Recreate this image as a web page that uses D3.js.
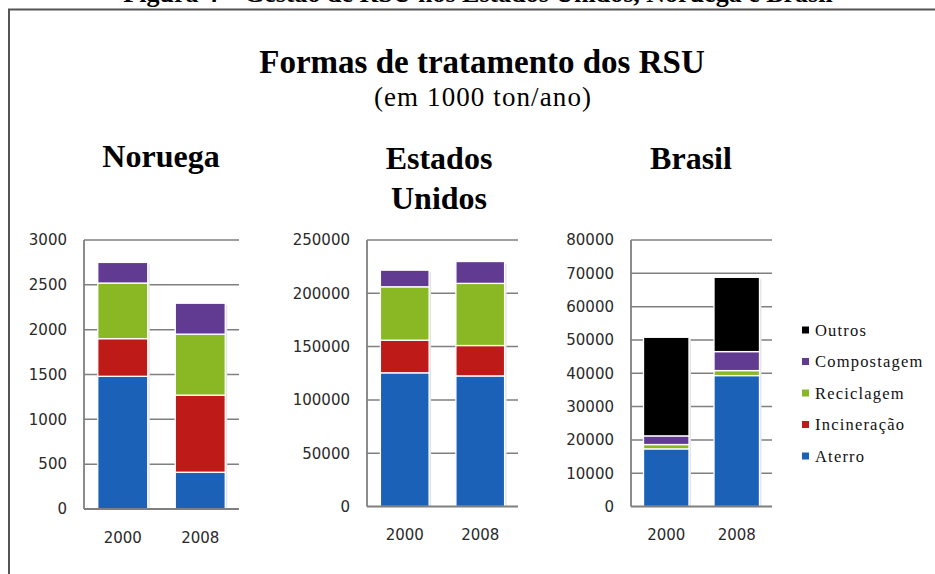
<!DOCTYPE html>
<html><head><meta charset="utf-8">
<script src="https://cdn.jsdelivr.net/npm/d3@7"></script>
<style>html,body{margin:0;padding:0;background:#fff;overflow:hidden}</style>
</head><body>
<svg id="chart" width="935" height="574"></svg>
<script>
// ---- data ----
const years = ["2000", "2008"];
const categories = ["Aterro", "Incineração", "Reciclagem", "Compostagem", "Outros"];
const legendOrder = ["Outros", "Compostagem", "Reciclagem", "Incineração", "Aterro"];
const colors = ["#1b61b7", "#be1a17", "#8ab825", "#613a91", "#000000"];

const noruegaAterro = [1480, 410];
const noruegaIncineracao = [420, 860];
const noruegaReciclagem = [620, 680];
const noruegaCompostagem = [230, 345];
const noruegaOutros = [0, 0];
const noruegaTicks = [0, 500, 1000, 1500, 2000, 2500, 3000];

const euaAterro = [125400, 122500];
const euaIncineracao = [30600, 28500];
const euaReciclagem = [50100, 58300];
const euaCompostagem = [15600, 20500];
const euaOutros = [0, 0];
const euaTicks = [0, 50000, 100000, 150000, 200000, 250000];

const brasilAterro = [17300, 39300];
const brasilIncineracao = [0, 0];
const brasilReciclagem = [1300, 1500];
const brasilCompostagem = [2600, 5700];
const brasilOutros = [29600, 22300];
const brasilTicks = [0, 10000, 20000, 30000, 40000, 50000, 60000, 70000, 80000];

// ---- drawing ----
const svg = d3.select("#chart");
const serif = "'Liberation Serif','Times New Roman',serif";
const sans = "'DejaVu Sans',Verdana,sans-serif";

// clipped document caption at the very top (cut off in the reference too)
svg.append("text").attr("x", 478).attr("y", 2).attr("text-anchor", "middle")
  .attr("font-family", serif).attr("font-weight", "bold").attr("font-size", 26)
  .text("Figura 4 – Gestão de RSU nos Estados Unidos, Noruega e Brasil");

// frame
svg.append("path").attr("d", "M9,574 L9,9.5 L935,9.5")
  .attr("fill", "none").attr("stroke", "#555").attr("stroke-width", 2);

// titles
svg.append("text").attr("x", 482).attr("y", 73).attr("text-anchor", "middle")
  .attr("font-family", serif).attr("font-weight", "bold").attr("font-size", 33)
  .text("Formas de tratamento dos RSU");
svg.append("text").attr("x", 483).attr("y", 106).attr("text-anchor", "middle")
  .attr("font-family", serif).attr("font-size", 27).attr("letter-spacing", 1.1)
  .text("(em 1000 ton/ano)");

function panel(opts) {
  const {series, ticks, x0, x1, y0, y1, title, titleX, titleY} = opts;
  const g = svg.append("g");
  const x = d3.scaleBand().domain(years).range([x0, x1]).paddingInner(0.355).paddingOuter(0.1775);
  const y = d3.scaleLinear().domain([0, d3.max(ticks)]).range([y1, y0]);

  // gridlines
  g.selectAll("line.grid").data(ticks.filter(t => t > 0)).join("line")
    .attr("x1", x0).attr("x2", x1).attr("y1", d => y(d)).attr("y2", d => y(d))
    .attr("stroke", "#7f7f7f").attr("stroke-width", 1.5);

  // stacked data
  const rows = years.map((yr, i) => {
    const r = {year: yr};
    categories.forEach((c, k) => r[c] = series[k][i]);
    return r;
  });
  const stacked = d3.stack().keys(categories)(rows);

  // subtle shadow
  g.selectAll("rect.shadow").data(rows).join("rect")
    .attr("x", d => x(d.year) + 2).attr("width", x.bandwidth())
    .attr("y", d => y(d3.sum(categories, c => d[c])) + 2)
    .attr("height", d => y1 - y(d3.sum(categories, c => d[c])) - 2)
    .attr("fill", "#e4e4e4");

  stacked.forEach((layer, k) => {
    g.selectAll(null).data(layer.filter(d => d[1] - d[0] > 0)).join("rect")
      .attr("x", d => x(d.data.year)).attr("width", x.bandwidth())
      .attr("y", d => y(d[1])).attr("height", d => y(d[0]) - y(d[1]))
      .attr("fill", colors[k]).attr("stroke", "#fff").attr("stroke-width", 1.3);
  });

  // axes lines
  g.append("line").attr("x1", x0).attr("x2", x0).attr("y1", y0).attr("y2", y1)
    .attr("stroke", "#7f7f7f").attr("stroke-width", 1.8);
  g.append("line").attr("x1", x0).attr("x2", x1).attr("y1", y1).attr("y2", y1)
    .attr("stroke", "#7f7f7f").attr("stroke-width", 1.8);

  // y axis labels
  const ya = d3.axisLeft(y).tickValues(ticks).tickSize(0).tickPadding(17).tickFormat(d3.format("d"));
  const yg = g.append("g").attr("transform", `translate(${x0},0)`).call(ya);
  yg.select(".domain").remove();
  yg.selectAll("text").attr("font-family", sans).attr("font-size", 15).attr("fill", "#2a2a2a");

  // x axis labels
  const xa = d3.axisBottom(x).tickSize(0).tickPadding(23);
  const xg = g.append("g").attr("transform", `translate(0,${y1})`).call(xa);
  xg.select(".domain").remove();
  xg.selectAll("text").attr("font-family", sans).attr("font-size", 15).attr("fill", "#2a2a2a");

  // title
  const t = svg.append("text").attr("text-anchor", "middle")
    .attr("font-family", serif).attr("font-weight", "bold").attr("font-size", 32);
  title.forEach((line, i) => t.append("tspan").attr("x", titleX).attr("y", titleY + i * 40).text(line));
}

panel({series: [noruegaAterro, noruegaIncineracao, noruegaReciclagem, noruegaCompostagem, noruegaOutros],
  ticks: noruegaTicks, x0: 84, x1: 239, y0: 240, y1: 509, title: ["Noruega"], titleX: 161, titleY: 167});
panel({series: [euaAterro, euaIncineracao, euaReciclagem, euaCompostagem, euaOutros],
  ticks: euaTicks, x0: 367, x1: 518, y0: 240, y1: 506.5, title: ["Estados", "Unidos"], titleX: 439, titleY: 169});
panel({series: [brasilAterro, brasilIncineracao, brasilReciclagem, brasilCompostagem, brasilOutros],
  ticks: brasilTicks, x0: 631, x1: 772, y0: 240, y1: 506.5, title: ["Brasil"], titleX: 691, titleY: 169});

// legend
const lg = svg.append("g");
legendOrder.forEach((name, i) => {
  const cy = 330 + i * 31.5;
  lg.append("rect").attr("x", 802).attr("y", cy - 3.5).attr("width", 7).attr("height", 7)
    .attr("fill", colors[categories.indexOf(name)]);
  lg.append("text").attr("x", 815).attr("y", cy + 5.5)
    .attr("font-family", serif).attr("font-size", 16.5).attr("letter-spacing", 1.2)
    .attr("fill", "#111").text(name);
});
</script>
</body></html>
